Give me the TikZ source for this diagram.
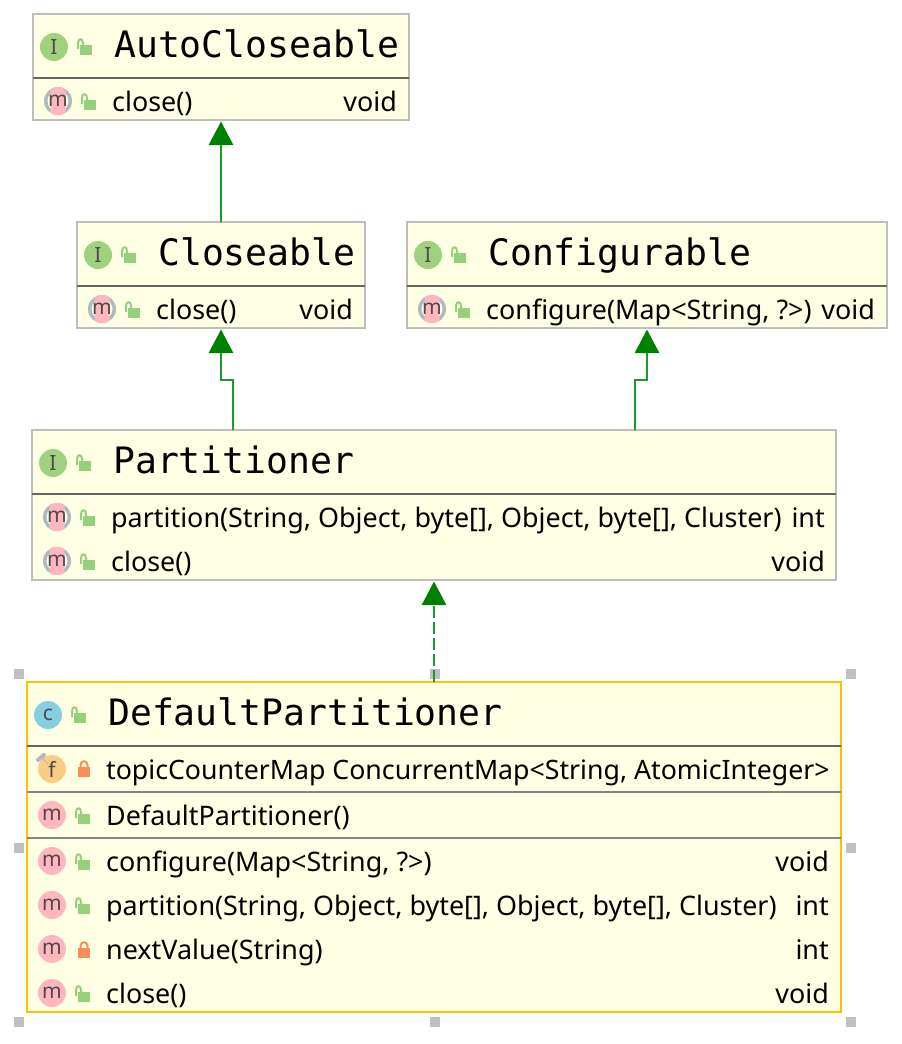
\documentclass[tikz,border=0pt]{standalone}
\usepackage{fontspec}
\setmainfont{Noto Sans}
\newfontfamily\titlefont{DejaVu Sans Mono}
\usetikzlibrary{arrows.meta,calc}
\definecolor{boxfill}{HTML}{FFFFE4}
\definecolor{boxedge}{HTML}{BEBEBE}
\definecolor{selected}{HTML}{F8C400}
\definecolor{divider}{HTML}{666660}
\definecolor{relgreen}{HTML}{1A9A2A}
\definecolor{headgreen}{HTML}{008000}
\definecolor{lockgreen}{HTML}{96D07C}
\definecolor{lockorange}{HTML}{F98E5B}
\definecolor{iconI}{HTML}{A0D180}
\definecolor{iconC}{HTML}{85D0E0}
\definecolor{iconM}{HTML}{FFB7BF}
\definecolor{iconF}{HTML}{F9CE84}
\definecolor{iconGrey}{HTML}{AEBAC0}
\definecolor{iconInk}{HTML}{50494A}
\definecolor{handle}{HTML}{C0C0C0}
\tikzset{
  x=1pt,y=-1pt,
  umlbox/.style={draw=boxedge,fill=boxfill,line width=2pt,inner sep=0pt,outer sep=0pt},
  selbox/.style={umlbox,draw=selected,line width=2.5pt},
  rule/.style={draw=divider,line width=2pt},
  titletext/.style={anchor=base west,inner sep=0pt,font=\titlefont\fontsize{36.4}{40}\selectfont},
  rowtext/.style={anchor=base west,inner sep=0pt,font=\fontsize{26.9}{30}\selectfont},
  rowtype/.style={anchor=base east,inner sep=0pt,font=\fontsize{26.9}{30}\selectfont},
  badge/.style={circle,inner sep=0pt,outer sep=0pt,minimum size=28pt,text=iconInk,font=\fontsize{21}{22}\selectfont},
  rel/.style={draw=relgreen,line width=2.8pt,shorten >=1.5pt,-{Triangle[length=23.5pt,width=24pt,color=headgreen]}},
  reldash/.style={rel,dash pattern=on 12pt off 4pt},
  grip/.style={fill=handle,inner sep=0pt,outer sep=0pt,minimum size=10pt},
}
% open padlock: #1,#2 = centre of body
\newcommand{\lockopen}[2]{%
  \fill[lockgreen] (#1-6,#2-5) rectangle (#1+6,#2+5);
  \draw[lockgreen,line width=2pt] (#1-8,#2-1) -- (#1-8,#2-7) .. controls (#1-8,#2-12) and (#1-3,#2-12) .. (#1-3,#2-7) -- (#1-3,#2-5);
}
\newcommand{\lockclosed}[2]{%
  \fill[lockorange] (#1-6,#2-5) rectangle (#1+6,#2+5);
  \draw[lockorange,line width=2pt] (#1-3.5,#2-5) -- (#1-3.5,#2-7) .. controls (#1-3.5,#2-12) and (#1+3.5,#2-12) .. (#1+3.5,#2-7) -- (#1+3.5,#2-5);
}
% name, x0, centre y, colour, letter, title
\newcommand{\headrow}[6]{%
  \node[badge,fill=#4] (#1i) at (#2+21,#3+1) {#5};
  \lockopen{#2+53}{#3+4}
  \node[titletext] (#1t) at (#2+81,#3+11.7) {#6};
}
% abstract method row: name, x0, centre y, text, type, right edge
\newcommand{\absrow}[6]{%
  \fill[iconGrey] (#2+25,#3-1) circle[radius=14];
  \fill[boxfill] (#2+25,#3-1) circle[radius=10.5];
  \begin{scope}
    \clip (#2+17.5,#3-15) rectangle (#2+32.5,#3+13);
    \fill[iconM] (#2+25,#3-1) circle[radius=14];
  \end{scope}
  \node[badge] (#1i) at (#2+25,#3-1) {m};
  \lockopen{#2+57}{#3+3}
  \node[rowtext] (#1t) at (#2+79,#3+9) {#4};
  \node[rowtype] (#1r) at (#6,#3+9) {#5};
}
% concrete row: name, x0, centre y, text, type, right edge
\newcommand{\conrow}[6]{%
  \node[badge,fill=iconM] (#1i) at (#2+25,#3-1) {m};
  \lockopen{#2+57}{#3+3}
  \node[rowtext] (#1t) at (#2+79,#3+9) {#4};
  \node[rowtype] (#1r) at (#6,#3+9) {#5};
}
\begin{document}
\begin{tikzpicture}
\useasboundingbox (0,0) rectangle (902,1044);
% selection handles
\node[grip] (h1) at (19,674) {};
\node[grip] (h2) at (435,674) {};
\node[grip] (h3) at (851,674) {};
\node[grip] (h4) at (19,848) {};
\node[grip] (h5) at (851,848) {};
\node[grip] (h6) at (19,1022) {};
\node[grip] (h7) at (435,1022) {};
\node[grip] (h8) at (851,1022) {};
% boxes
\node[umlbox,minimum width=376pt,minimum height=106pt] (auto) at (221,67) {};
\node[umlbox,minimum width=288pt,minimum height=106pt] (clo) at (221,275) {};
\node[umlbox,minimum width=480pt,minimum height=106pt] (conf) at (647,275) {};
\node[umlbox,minimum width=804pt,minimum height=150pt] (part) at (434,505) {};
\node[selbox,minimum width=814pt,minimum height=330pt] (dflt) at (434,847) {};
% dividers
\draw[rule] (auto.west |- 0,78) -- (auto.east |- 0,78);
\draw[rule] (clo.west |- 0,286) -- (clo.east |- 0,286);
\draw[rule] (conf.west |- 0,286) -- (conf.east |- 0,286);
\draw[rule] (part.west |- 0,494) -- (part.east |- 0,494);
\draw[rule] (dflt.west |- 0,746) -- (dflt.east |- 0,746);
\draw[rule,draw=divider!80] (dflt.west |- 0,792) -- (dflt.east |- 0,792);
\draw[rule,draw=divider!80] (dflt.west |- 0,838) -- (dflt.east |- 0,838);
% contents
\headrow{a}{33}{46}{iconI}{I}{AutoCloseable}
\absrow{a1}{33}{102}{close()}{void}{397}
\headrow{b}{77}{254}{iconI}{I}{Closeable}
\absrow{b1}{77}{310}{close()}{void}{353}
\headrow{c}{407}{254}{iconI}{I}{Configurable}
\absrow{c1}{407}{310}{configure(Map<String, ?>)}{void}{875}
\headrow{p}{32}{462}{iconI}{I}{Partitioner}
\absrow{p1}{32}{518}{partition(String, Object, byte[], Object, byte[], Cluster)}{int}{825}
\absrow{p2}{32}{562}{close()}{void}{825}
\headrow{d}{27}{714}{iconC}{c}{DefaultPartitioner}
% field row
\node[badge,fill=iconF] (d1i) at (52,769) {f};
\draw[iconGrey,line width=4pt,line cap=round] (38,760) -- (44,755);
\draw[iconGrey,line width=1pt] (43,759) -- (48,764);
\lockclosed{84}{772}
\node[rowtext,font=\fontsize{26.7}{30}\selectfont] (d1t) at (106,779) {topicCounterMap ConcurrentMap<String, AtomicInteger>};
\conrow{d2}{27}{816}{DefaultPartitioner()}{}{829}
\conrow{d3}{27}{862}{configure(Map<String, ?>)}{void}{829}
\conrow{d4}{27}{906}{partition(String, Object, byte[], Object, byte[], Cluster)}{int}{829}
\node[badge,fill=iconM] (d5i) at (52,949) {m};
\lockclosed{84}{953}
\node[rowtext] (d5t) at (106,959) {nextValue(String)};
\node[rowtype] (d5r) at (829,959) {int};
\conrow{d6}{27}{994}{close()}{void}{829}
% connectors
\coordinate (pc) at (233,430);
\coordinate (pf) at (635,430);
\coordinate (pd) at (434,580);
\coordinate (dp) at (434,682);
\draw[rel] (clo.north) -- (auto.south);
\draw[rel] (pc) -- ++(0,-50) -| (clo.south);
\draw[rel] (pf) -- ++(0,-50) -| (conf.south);
\draw[reldash] (dp) -- (pd);
\end{tikzpicture}
\end{document}
